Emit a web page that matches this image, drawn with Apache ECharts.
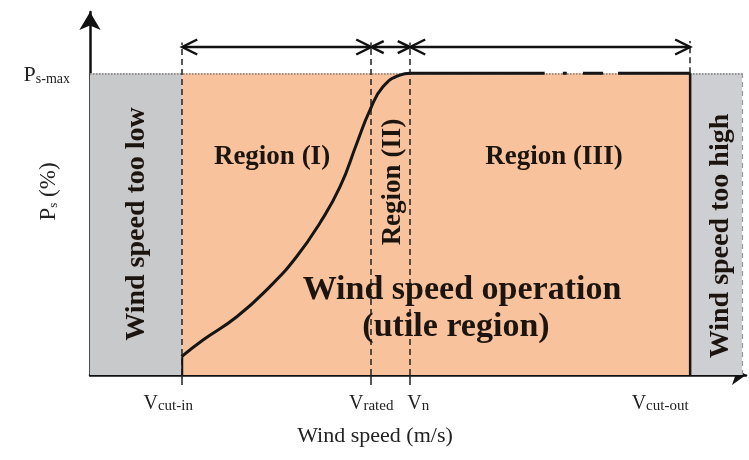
<!DOCTYPE html>
<html><head><meta charset="utf-8">
<script src="https://cdn.jsdelivr.net/npm/echarts@6/dist/echarts.min.js"></script>
<style>html,body{margin:0;padding:0;background:#fff}#c{width:749px;height:460px}</style>
</head><body><div id="c"></div>
<script>
// ---- data (wind speed in axis units, power in % of Ps-max) ----
const cutIn = 14.2, rated = 43.3, vn = 49.3, cutOut = 92.4, highEnd = 100.4;
const psMax = 100, arrowLevel = 108.7;
const curveX = [14.1, 17.4, 22.6, 27.7, 31.8, 35.4, 38.5, 41.1, 43.1, 45.1, 47.7, 49.3];
const curveY = [6.1, 11.6, 19.3, 29.3, 39.2, 50.4, 62.4, 76.9, 87.8, 95.5, 99.4, 100];
const flatSegments = [[49.3, 70.0], [72.8, 73.4], [75.9, 79.0], [81.3, 92.4]];
const xTickValues = [cutIn, rated, vn, cutOut];
const xTickSubs = ['cut-in', 'rated', 'n', 'cut-out'];
const xTickShift = [-14, 0, 8, -30];
const yTickValues = [psMax];
const yTickSub = 's-max';
const spans = [[cutIn, rated], [rated, vn], [vn, cutOut]];

const serif = '"Liberation Serif", "DejaVu Serif", serif';
const ink = '#1c140e';

const curveData = curveX.map((x, i) => [x, curveY[i]]);
const flatData = [];
flatSegments.forEach((s, i) => {
  if (i > 0) flatData.push([s[0] - 0.5, '-']);
  flatData.push([s[0], psMax], [s[1], psMax]);
});

const chart = echarts.init(document.getElementById('c'), null, {renderer: 'canvas'});
const dashed = {type: [6, 4], color: '#222', width: 1.5};

chart.setOption({
  animation: false,
  grid: {left: 90, right: 3, top: 12, bottom: 85, containLabel: false, outerBoundsMode: 'none'},
  xAxis: {
    type: 'value', min: 0, max: 101,
    splitLine: {show: false},
    axisLine: {show: true, symbol: ['none', 'arrow'], symbolSize: [15, 14], lineStyle: {color: '#111', width: 2.5}},
    axisTick: {show: true, customValues: [cutIn, rated, vn], length: 10, lineStyle: {color: '#222', width: 1.5}},
    axisLabel: {
      customValues: xTickValues, margin: 15,
      formatter: v => {
        let i = xTickValues.findIndex(t => Math.abs(t - v) < 1e-6);
        if (i < 0) return '';
        const sh = xTickShift[i];
        const lead = sh > 0 ? '{g' + i + '| }' : '';
        const tail = sh < 0 ? '{g' + i + '| }' : '';
        return lead + '{p|V}{s|' + xTickSubs[i] + '}' + tail;
      },
      rich: {
        p: {fontFamily: serif, fontSize: 20, color: '#222', lineHeight: 24, verticalAlign: 'bottom'},
        s: {fontFamily: serif, fontSize: 15, color: '#222', lineHeight: 16, verticalAlign: 'bottom'},
        g0: {width: 28}, g1: {width: 0}, g2: {width: 16}, g3: {width: 60}
      }
    },
    name: 'Wind speed (m/s)', nameLocation: 'middle', nameGap: 50, nameMoveOverlap: false,
    nameTextStyle: {fontFamily: serif, fontSize: 22, color: '#222', padding: [0, 86, 0, 0]}
  },
  yAxis: {
    type: 'value', min: 0, max: 120.3,
    splitLine: {show: false},
    axisLine: {show: true, symbol: ['none', 'arrow'], symbolSize: [16, 18], lineStyle: {color: '#111', width: 2.5}},
    axisTick: {show: false},
    axisLabel: {
      customValues: yTickValues, margin: 20,
      formatter: () => '{p|P}{s|' + yTickSub + '}',
      rich: {
        p: {fontFamily: serif, fontSize: 22, color: '#222', lineHeight: 26, verticalAlign: 'bottom'},
        s: {fontFamily: serif, fontSize: 14, color: '#222', lineHeight: 16, verticalAlign: 'bottom'}
      }
    },
    name: '{p|P}{s|s}{p| (%)}', nameLocation: 'middle', nameGap: 30, nameMoveOverlap: false,
    nameTextStyle: {
      padding: [0, 0, 0, 4],
      rich: {
        p: {fontFamily: serif, fontSize: 23, color: '#222', lineHeight: 26, verticalAlign: 'bottom'},
        s: {fontFamily: serif, fontSize: 13, color: '#222', lineHeight: 16, verticalAlign: 'bottom'}
      }
    }
  },
  series: [
    {
      type: 'line', data: [[cutOut, 0], [cutOut, psMax]], symbol: 'none', z: 5,
      lineStyle: {color: '#151515', width: 2.5},
      markArea: {
        silent: true,
        data: [
          [{coord: [0, 0], itemStyle: {color: '#c8c9cb'}}, {coord: [cutIn, psMax]}],
          [{coord: [cutIn, 0], itemStyle: {color: '#f8c39c'}}, {coord: [cutOut, psMax]}],
          [{coord: [cutOut, 0], itemStyle: {color: '#cdcfd2'}}, {coord: [highEnd, psMax]}]
        ]
      },
      markLine: {
        silent: true, symbol: ['none', 'none'], label: {show: false},
        data: [
          [{coord: [0, psMax], lineStyle: {type: 'dotted', color: '#808080', width: 1.5}}, {coord: [highEnd, psMax]}],
          [{coord: [cutIn, 0], lineStyle: dashed}, {coord: [cutIn, arrowLevel + 1.5]}],
          [{coord: [rated, 0], lineStyle: dashed}, {coord: [rated, arrowLevel + 1.5]}],
          [{coord: [vn, 0], lineStyle: dashed}, {coord: [vn, arrowLevel + 1.5]}],
          [{coord: [cutOut, psMax], lineStyle: dashed}, {coord: [cutOut, arrowLevel + 2]}],
          [{coord: [highEnd, 0], lineStyle: {type: [5, 4], color: '#9a9a9a', width: 1.2}}, {coord: [highEnd, psMax]}]
        ]
      }
    },
    {
      type: 'line', data: [[cutIn, 0], [cutIn, curveY[0]]], symbol: 'none', z: 5,
      lineStyle: {color: '#151515', width: 2}
    },
    {
      type: 'line', data: curveData, symbol: 'none', smooth: 0.5, z: 6,
      lineStyle: {color: '#151515', width: 3}
    },
    {
      type: 'line', data: flatData, symbol: 'none', connectNulls: false, z: 6,
      lineStyle: {color: '#151515', width: 3}
    },
    {
      type: 'custom', z: 7,
      encode: {x: [0, 1], y: 2},
      data: spans.map(s => [s[0], s[1], arrowLevel]),
      renderItem: (params, api) => {
        const a = api.coord([api.value(0), api.value(2)]);
        const b = api.coord([api.value(1), api.value(2)]);
        const len = b[0] - a[0];
        const L = Math.min(15, len * 0.32), W = len < 60 ? 6 : 7.5;
        const style = {stroke: '#111', lineWidth: 2.5, fill: null};
        return {
          type: 'group', children: [
            {type: 'line', shape: {x1: a[0], y1: a[1], x2: b[0], y2: b[1]}, style},
            {type: 'polyline', shape: {points: [[a[0] + L, a[1] - W], [a[0], a[1]], [a[0] + L, a[1] + W]]}, style},
            {type: 'polyline', shape: {points: [[b[0] - L, b[1] - W], [b[0], b[1]], [b[0] - L, b[1] + W]]}, style}
          ]
        };
      }
    }
  ],
  graphic: [
    {type: 'text', x: 272, y: 157, z: 100, style: {text: 'Region (I)', font: 'bold 27px ' + serif, fill: ink, align: 'center', verticalAlign: 'middle'}},
    {type: 'text', x: 554, y: 157, z: 100, style: {text: 'Region (III)', font: 'bold 27px ' + serif, fill: ink, align: 'center', verticalAlign: 'middle'}},
    {type: 'text', x: 393, y: 182, rotation: Math.PI / 2, z: 100, style: {text: 'Region (II)', font: 'bold 27px ' + serif, fill: ink, align: 'center', verticalAlign: 'middle'}},
    {type: 'text', x: 137, y: 224, rotation: Math.PI / 2, z: 100, style: {text: 'Wind speed too low', font: 'bold 28px ' + serif, fill: ink, align: 'center', verticalAlign: 'middle'}},
    {type: 'text', x: 721, y: 236, rotation: Math.PI / 2, z: 100, style: {text: 'Wind speed too high', font: 'bold 28px ' + serif, fill: ink, align: 'center', verticalAlign: 'middle'}},
    {type: 'text', x: 462, y: 290, z: 100, style: {text: 'Wind speed operation', font: 'bold 34px ' + serif, fill: ink, align: 'center', verticalAlign: 'middle'}},
    {type: 'text', x: 456, y: 327, z: 100, style: {text: '(utile region)', font: 'bold 34px ' + serif, fill: ink, align: 'center', verticalAlign: 'middle'}}
  ]
});
</script>
</body></html>
